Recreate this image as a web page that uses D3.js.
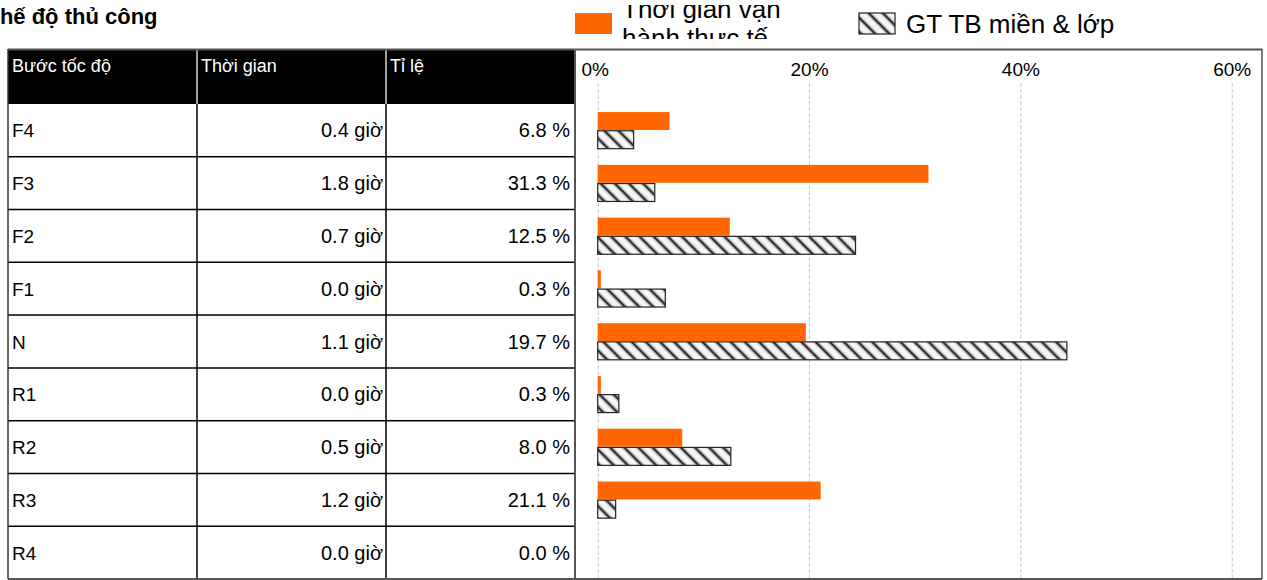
<!DOCTYPE html>
<html>
<head>
<meta charset="utf-8">
<script src="https://cdn.jsdelivr.net/npm/d3@7"></script>
<style>
  html, body { margin: 0; padding: 0; background: #fff; }
  svg { display: block; font-family: "Liberation Sans", Arial, sans-serif; }
</style>
</head>
<body>
<svg id="chart" width="1267" height="580"></svg>
<script>
// Gear steps and their recorded usage
const categories = ["F4", "F3", "F2", "F1", "N", "R1", "R2", "R3", "R4"];
const hours = [0.4, 1.8, 0.7, 0.0, 1.1, 0.0, 0.5, 1.2, 0.0];
const actualShare = [6.8, 31.3, 12.5, 0.3, 19.7, 0.3, 8.0, 21.1, 0.0];
const averageShare = [3.4, 5.4, 24.4, 6.4, 44.4, 2.0, 12.6, 1.7, 0.0];
const xTicks = [0, 20, 40, 60];
const columnHeaders = ["Bước tốc độ", "Thời gian", "Tỉ lệ"];
const titleText = "Chế độ thủ công";
const legendActual = ["Thời gian vận", "hành thực tế"];
const legendAverage = "GT TB miền & lớp";

(function () {
const svg = d3.select("#chart");
const orange = "#ff6600";

// Frame geometry
const frameLeft = 8, frameRight = 1262, frameTop = 50, frameBottom = 579, headerBottom = 104;
const colX = [frameLeft, 197, 386, 575];

// Hatch pattern for the average bars
const defs = svg.append("defs");
const pat = defs.append("pattern")
  .attr("id", "hatch")
  .attr("patternUnits", "userSpaceOnUse")
  .attr("width", 10).attr("height", 10)
  .attr("patternTransform", "rotate(-45)");
pat.append("rect").attr("width", 10).attr("height", 10).attr("fill", "#f6f6f6");
pat.append("line").attr("x1", 5).attr("x2", 5).attr("y1", -1).attr("y2", 11)
  .attr("stroke", "#b0b0b0").attr("stroke-width", 4.5);
pat.append("line").attr("x1", 5).attr("x2", 5).attr("y1", -1).attr("y2", 11)
  .attr("stroke", "#333").attr("stroke-width", 2);

// Two-line legend label sits in a short box that trims both lines
const clip = defs.append("clipPath").attr("id", "legclip");
clip.append("rect").attr("x", 560).attr("y", 5).attr("width", 260).attr("height", 34);

// Title (starts left of the canvas edge)
svg.append("text")
  .attr("x", -16).attr("y", 24)
  .attr("font-size", 22).attr("font-weight", "bold")
  .attr("fill", "#000")
  .text(titleText);

// Legend
svg.append("rect").attr("x", 575).attr("y", 13).attr("width", 37).attr("height", 21).attr("fill", orange);
const legText = svg.append("text")
  .attr("clip-path", "url(#legclip)")
  .attr("font-size", 26).attr("fill", "#000");
legendActual.forEach((line, i) => {
  legText.append("tspan").attr("x", 622).attr("y", 18 + i * 29).text(line);
});
svg.append("rect").attr("x", 859).attr("y", 13).attr("width", 36).attr("height", 21)
  .attr("fill", "url(#hatch)").attr("stroke", "#222").attr("stroke-width", 1.2);
svg.append("text").attr("x", 906).attr("y", 33).attr("font-size", 26).attr("fill", "#000")
  .text(legendAverage);

// Scales
const y = d3.scaleBand().domain(categories).range([headerBottom, frameBottom]).padding(0);
const x = d3.scaleLinear().domain([0, 60]).range([597.7, 1231.7]);
const series = d3.scaleBand().domain(["actual", "average"]).range([0, 36.6]).paddingInner(0.04);
const groupOffset = (y.bandwidth() - 36.6) / 2;

// Table header
svg.append("rect").attr("x", frameLeft).attr("y", frameTop).attr("width", colX[3] - frameLeft)
  .attr("height", headerBottom - frameTop).attr("fill", "#000");
[1, 2].forEach(i => {
  svg.append("line").attr("x1", colX[i]).attr("x2", colX[i]).attr("y1", frameTop).attr("y2", headerBottom)
    .attr("stroke", "#d8d8d8").attr("stroke-width", 1.5);
});
columnHeaders.forEach((h, i) => {
  svg.append("text").attr("x", colX[i] + 4).attr("y", 72).attr("font-size", 18).attr("fill", "#fff").text(h);
});

// Gridlines and tick labels
const axis = d3.axisTop(x).tickValues(xTicks).tickFormat(d => d + "%")
  .tickSizeInner(-(frameBottom - 83)).tickSizeOuter(0).tickPadding(7);
const ax = svg.append("g").attr("transform", "translate(0,83)").call(axis);
ax.select(".domain").remove();
ax.selectAll(".tick line").attr("stroke", "#c8c8c8").attr("stroke-dasharray", "4,2").attr("stroke-width", 1);
ax.selectAll(".tick text").attr("font-size", 19).attr("fill", "#000")
  .attr("font-family", "'Liberation Sans', Arial, sans-serif")
  .attr("dx", d => d === 0 ? -3 : 0);

// Table body rows
const rows = svg.append("g");
categories.forEach((c, i) => {
  const y0 = y(c), cy = y0 + y.bandwidth() / 2 + 7;
  rows.append("text").attr("x", colX[0] + 4).attr("y", cy).attr("font-size", 19).text(c);
  rows.append("text").attr("x", colX[2] - 3).attr("y", cy).attr("font-size", 20).attr("text-anchor", "end")
    .text(hours[i].toFixed(1) + " giờ");
  rows.append("text").attr("x", colX[3] - 5).attr("y", cy).attr("font-size", 20).attr("text-anchor", "end")
    .text(actualShare[i].toFixed(1) + " %");
  if (i > 0) {
    rows.append("line").attr("x1", frameLeft).attr("x2", colX[3]).attr("y1", y0).attr("y2", y0)
      .attr("stroke", "#000").attr("stroke-width", 1.5);
  }
});
[1, 2].forEach(i => {
  svg.append("line").attr("x1", colX[i]).attr("x2", colX[i]).attr("y1", headerBottom).attr("y2", frameBottom)
    .attr("stroke", "#000").attr("stroke-width", 1.5);
});

// Bars
const bars = svg.append("g");
bars.selectAll("rect.actual").data(categories).join("rect").attr("class", "actual")
  .attr("x", x(0))
  .attr("y", c => y(c) + groupOffset + series("actual"))
  .attr("width", (c, i) => x(actualShare[i]) - x(0))
  .attr("height", series.bandwidth())
  .attr("fill", orange);
bars.selectAll("rect.average").data(categories.filter((c, i) => averageShare[i] > 0)).join("rect").attr("class", "average")
  .attr("x", x(0))
  .attr("y", c => y(c) + groupOffset + series("average"))
  .attr("width", c => x(averageShare[categories.indexOf(c)]) - x(0))
  .attr("height", series.bandwidth())
  .attr("fill", "url(#hatch)").attr("stroke", "#222").attr("stroke-width", 1.2);

// Outer frame
svg.append("line").attr("x1", frameLeft).attr("x2", frameRight).attr("y1", frameTop - 0.5).attr("y2", frameTop - 0.5).attr("stroke", "#555").attr("stroke-width", 2);
svg.append("line").attr("x1", frameRight).attr("x2", frameRight).attr("y1", frameTop - 1).attr("y2", frameBottom).attr("stroke", "#555").attr("stroke-width", 1.5);
svg.append("line").attr("x1", frameLeft).attr("x2", frameRight).attr("y1", frameBottom).attr("y2", frameBottom).attr("stroke", "#555").attr("stroke-width", 2);
svg.append("line").attr("x1", frameLeft).attr("x2", frameLeft).attr("y1", frameTop - 1).attr("y2", frameBottom).attr("stroke", "#333").attr("stroke-width", 1.5);
svg.append("line").attr("x1", colX[3]).attr("x2", colX[3]).attr("y1", frameTop - 1).attr("y2", frameBottom).attr("stroke", "#555").attr("stroke-width", 2);
})();
</script>
</body>
</html>
